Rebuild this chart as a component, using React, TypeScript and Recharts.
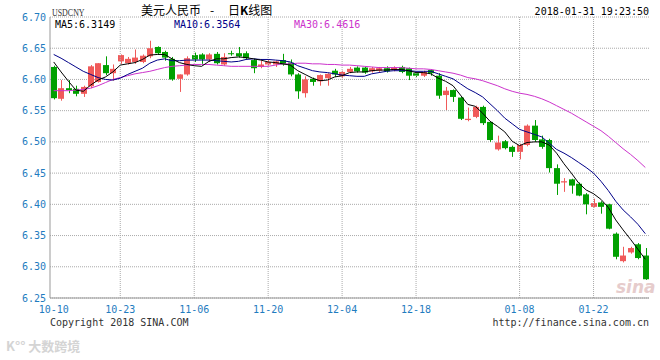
import React from 'react';
import { ComposedChart, Bar, Line, XAxis, YAxis, CartesianGrid, ReferenceLine } from 'recharts';

// trading days 2017-10-10 .. 2018-01-31
const dates = [
  '10-10', '10-11', '10-12', '10-13', '10-16', '10-17', '10-18', '10-19', '10-20', '10-23',
  '10-24', '10-25', '10-26', '10-27', '10-30', '10-31', '11-01', '11-02', '11-03', '11-06',
  '11-07', '11-08', '11-09', '11-10', '11-13', '11-14', '11-15', '11-16', '11-17', '11-20',
  '11-21', '11-22', '11-23', '11-24', '11-27', '11-28', '11-29', '11-30', '12-01', '12-04',
  '12-05', '12-06', '12-07', '12-08', '12-11', '12-12', '12-13', '12-14', '12-15', '12-18',
  '12-19', '12-20', '12-21', '12-22', '12-25', '12-26', '12-27', '12-28', '12-29', '01-02',
  '01-03', '01-04', '01-05', '01-08', '01-09', '01-10', '01-11', '01-12', '01-15', '01-16',
  '01-17', '01-18', '01-19', '01-22', '01-23', '01-24', '01-25', '01-26', '01-29', '01-30',
  '01-31',
];

const opens = [
  6.620, 6.569, 6.586, 6.585, 6.577, 6.589, 6.596, 6.623, 6.610, 6.629,
  6.626, 6.628, 6.628, 6.637, 6.652, 6.644, 6.633, 6.601, 6.608, 6.639,
  6.640, 6.632, 6.641, 6.624, 6.642, 6.642, 6.642, 6.631, 6.620, 6.624,
  6.624, 6.631, 6.627, 6.608, 6.578, 6.601, 6.597, 6.602, 6.614, 6.605,
  6.612, 6.619, 6.619, 6.613, 6.614, 6.618, 6.615, 6.620, 6.618, 6.610,
  6.606, 6.615, 6.606, 6.575, 6.583, 6.571, 6.535, 6.540, 6.556, 6.532,
  6.488, 6.501, 6.492, 6.484, 6.495, 6.526, 6.504, 6.503, 6.458, 6.435,
  6.440, 6.433, 6.416, 6.396, 6.403, 6.400, 6.353, 6.309, 6.323, 6.336,
  6.318,
];

const highs = [
  6.622, 6.599, 6.599, 6.590, 6.590, 6.623, 6.626, 6.637, 6.624, 6.640,
  6.636, 6.648, 6.640, 6.662, 6.653, 6.646, 6.636, 6.608, 6.637, 6.643,
  6.642, 6.642, 6.644, 6.642, 6.646, 6.652, 6.645, 6.633, 6.630, 6.632,
  6.630, 6.641, 6.632, 6.610, 6.605, 6.603, 6.608, 6.610, 6.617, 6.614,
  6.620, 6.621, 6.620, 6.620, 6.620, 6.621, 6.621, 6.622, 6.619, 6.611,
  6.614, 6.616, 6.610, 6.588, 6.584, 6.572, 6.555, 6.558, 6.558, 6.533,
  6.510, 6.503, 6.494, 6.497, 6.528, 6.535, 6.510, 6.505, 6.464, 6.442,
  6.441, 6.435, 6.418, 6.409, 6.405, 6.401, 6.355, 6.332, 6.332, 6.338,
  6.330,
];

const lows = [
  6.568, 6.566, 6.578, 6.573, 6.572, 6.586, 6.595, 6.607, 6.598, 6.625,
  6.624, 6.625, 6.626, 6.634, 6.640, 6.630, 6.598, 6.580, 6.606, 6.628,
  6.625, 6.628, 6.624, 6.622, 6.638, 6.635, 6.632, 6.610, 6.618, 6.622,
  6.620, 6.622, 6.605, 6.569, 6.571, 6.590, 6.590, 6.590, 6.604, 6.602,
  6.610, 6.611, 6.609, 6.611, 6.612, 6.611, 6.613, 6.610, 6.599, 6.604,
  6.604, 6.606, 6.569, 6.551, 6.564, 6.535, 6.533, 6.538, 6.527, 6.500,
  6.486, 6.488, 6.476, 6.472, 6.493, 6.500, 6.489, 6.451, 6.415, 6.420,
  6.417, 6.413, 6.384, 6.395, 6.385, 6.360, 6.312, 6.307, 6.321, 6.312,
  6.279,
];

const closes = [
  6.570, 6.586, 6.583, 6.577, 6.588, 6.621, 6.626, 6.610, 6.617, 6.639,
  6.633, 6.635, 6.638, 6.650, 6.642, 6.635, 6.600, 6.608, 6.634, 6.632,
  6.632, 6.640, 6.626, 6.636, 6.641, 6.637, 6.634, 6.618, 6.624, 6.628,
  6.629, 6.624, 6.608, 6.581, 6.600, 6.596, 6.607, 6.609, 6.608, 6.612,
  6.617, 6.613, 6.611, 6.618, 6.618, 6.613, 6.619, 6.612, 6.606, 6.606,
  6.612, 6.610, 6.574, 6.582, 6.572, 6.537, 6.537, 6.556, 6.530, 6.503,
  6.499, 6.490, 6.484, 6.495, 6.526, 6.503, 6.492, 6.458, 6.433, 6.437,
  6.430, 6.414, 6.400, 6.402, 6.396, 6.361, 6.316, 6.318, 6.330, 6.314,
  6.280,
];

const ma5 = [
  6.628, 6.612, 6.597, 6.583, 6.581, 6.591, 6.599, 6.604, 6.612, 6.623,
  6.625, 6.627, 6.632, 6.639, 6.640, 6.640, 6.633, 6.627, 6.624, 6.622,
  6.621, 6.629, 6.633, 6.633, 6.635, 6.636, 6.635, 6.633, 6.631, 6.628,
  6.627, 6.625, 6.623, 6.614, 6.608, 6.602, 6.598, 6.599, 6.604, 6.606,
  6.611, 6.612, 6.612, 6.614, 6.615, 6.615, 6.616, 6.616, 6.614, 6.611,
  6.611, 6.609, 6.602, 6.597, 6.590, 6.575, 6.560, 6.557, 6.546, 6.533,
  6.525, 6.516, 6.501, 6.494, 6.499, 6.500, 6.500, 6.495, 6.482, 6.465,
  6.450, 6.434, 6.423, 6.417, 6.408, 6.395, 6.375, 6.359, 6.344, 6.328,
  6.312,
];

const ma10 = [
  6.640, 6.634, 6.627, 6.620, 6.613, 6.608, 6.603, 6.600, 6.599, 6.602,
  6.608, 6.613, 6.618, 6.626, 6.631, 6.633, 6.630, 6.630, 6.631, 6.631,
  6.631, 6.631, 6.630, 6.629, 6.628, 6.629, 6.632, 6.633, 6.632, 6.632,
  6.631, 6.630, 6.628, 6.622, 6.618, 6.614, 6.612, 6.611, 6.609, 6.607,
  6.606, 6.605, 6.605, 6.609, 6.611, 6.613, 6.614, 6.614, 6.614, 6.613,
  6.613, 6.613, 6.609, 6.605, 6.601, 6.593, 6.585, 6.579, 6.572, 6.561,
  6.550, 6.538, 6.529, 6.520, 6.516, 6.512, 6.508, 6.498, 6.488, 6.482,
  6.475, 6.467, 6.459, 6.450, 6.437, 6.422, 6.405, 6.391, 6.380, 6.368,
  6.353,
];

const ma30 = [
  6.582, 6.582, 6.582, 6.583, 6.584, 6.586, 6.590, 6.595, 6.600, 6.603,
  6.606, 6.609, 6.611, 6.613, 6.616, 6.619, 6.621, 6.622, 6.623, 6.624,
  6.624, 6.624, 6.623, 6.622, 6.621, 6.621, 6.621, 6.621, 6.621, 6.621,
  6.623, 6.625, 6.625, 6.626, 6.626, 6.625, 6.625, 6.624, 6.624, 6.623,
  6.623, 6.622, 6.621, 6.620, 6.619, 6.619, 6.619, 6.619, 6.618, 6.617,
  6.617, 6.616, 6.614, 6.612, 6.610, 6.607, 6.603, 6.601, 6.598, 6.594,
  6.590, 6.585, 6.581, 6.578, 6.576, 6.573, 6.569, 6.564, 6.558, 6.552,
  6.546, 6.539, 6.532, 6.525, 6.518, 6.509, 6.499, 6.489, 6.480, 6.470,
  6.459,
];

const tickDates = ['10-10', '10-23', '11-06', '11-20', '12-04', '12-18', '01-08', '01-22'];
const yTicks = [6.25, 6.3, 6.35, 6.4, 6.45, 6.5, 6.55, 6.6, 6.65, 6.7];

const UP = '#f05a5a';
const DOWN = '#00a000';
const LABEL = '#1f7cc0';
const MONO = '"DejaVu Sans Mono", "Liberation Mono", monospace';
const CJK = '"Noto Sans CJK SC", sans-serif';

const chartData = dates.map((d, i) => ({
  date: d,
  open: opens[i],
  high: highs[i],
  low: lows[i],
  close: closes[i],
  range: [lows[i], highs[i]],
  ma5: ma5[i],
  ma10: ma10[i],
  ma30: ma30[i],
}));

// candle drawn from the [low, high] bar that recharts positions for us
function Candle(props: any) {
  const { x, y, width, height, payload } = props;
  if (!payload) return <g />;
  const { open, close, high, low } = payload;
  const top = Math.min(y, y + height);
  const span = Math.abs(height);
  const k = high === low ? 0 : span / (high - low);
  const py = (v: number) => top + (high - v) * k;
  const color = close > open ? UP : DOWN;
  const cx = Math.round(x + width / 2) + 0.5;
  const bodyTop = py(Math.max(open, close));
  const bodyH = Math.max(1, py(Math.min(open, close)) - bodyTop);
  return (
    <g>
      <line x1={cx} x2={cx} y1={top} y2={top + span} stroke={color} strokeWidth={1} />
      <rect x={Math.round(x)} y={bodyTop} width={Math.round(width)} height={bodyH} fill={color} />
    </g>
  );
}

function DateTick(props: any) {
  const { x, y, payload } = props;
  if (!tickDates.includes(payload.value)) return <g />;
  return (
    <text x={x} y={y} dy={9} textAnchor="middle" fill={LABEL} fontSize={10} fontFamily={MONO}>
      {payload.value}
    </text>
  );
}

const abs = (style: React.CSSProperties): React.CSSProperties => ({
  position: 'absolute',
  whiteSpace: 'nowrap',
  lineHeight: 1,
  pointerEvents: 'none',
  ...style,
});

export default function App() {
  return (
    <div style={{ position: 'absolute', left: 0, top: 0, width: 660, height: 360, background: '#fff' }}>
      <ComposedChart
        width={660}
        height={360}
        data={chartData}
        margin={{ top: 17, right: 11, bottom: 42, left: 0 }}
        barSize={6}
      >
        <CartesianGrid vertical={false} stroke="#aaa" strokeDasharray="1 1" />
        {tickDates.slice(1).map((d) => (
          <ReferenceLine key={d} x={d} stroke="#aaa" strokeDasharray="1 1" />
        ))}
        <XAxis
          dataKey="date"
          interval={0}
          height={20}
          tick={<DateTick />}
          tickLine={false}
          tickSize={0}
          tickMargin={6}
          axisLine={{ stroke: '#999' }}
        />
        <XAxis
          xAxisId="top"
          orientation="top"
          dataKey="date"
          height={0}
          tick={false}
          tickLine={false}
          axisLine={{ stroke: '#999' }}
        />
        <YAxis
          domain={[6.25, 6.7]}
          ticks={yTicks}
          width={50}
          tickFormatter={(v: number) => v.toFixed(2)}
          tick={{ fill: LABEL, fontSize: 10, fontFamily: MONO }}
          tickLine={false}
          tickSize={0}
          tickMargin={4}
          axisLine={{ stroke: '#999' }}
        />
        <YAxis
          yAxisId="right"
          orientation="right"
          domain={[6.25, 6.7]}
          width={0}
          tick={false}
          tickLine={false}
          axisLine={{ stroke: '#999' }}
        />
        <Bar dataKey="range" shape={<Candle />} isAnimationActive={false} />
        <Line type="linear" dataKey="ma30" stroke="#cc33cc" strokeWidth={1} dot={false} isAnimationActive={false} />
        <Line type="linear" dataKey="ma10" stroke="#000088" strokeWidth={1} dot={false} isAnimationActive={false} />
        <Line type="linear" dataKey="ma5" stroke="#000000" strokeWidth={1} dot={false} isAnimationActive={false} />
      </ComposedChart>

      <div style={abs({ left: 52, top: 7, fontSize: 11, fontFamily: '"Liberation Serif", serif', color: '#333', transform: 'scaleX(0.72)', transformOrigin: 'left top' })}>
        USDCNY
      </div>
      <div style={abs({ left: 141, top: 4, fontSize: 12, fontFamily: CJK, color: '#000' })}>美元人民币</div>
      <div style={abs({ left: 210, top: 4, fontSize: 12, fontFamily: CJK, color: '#000' })}>-</div>
      <div style={abs({ left: 228, top: 4, fontSize: 12, fontFamily: CJK, color: '#000' })}>
        日<b>K</b>线图
      </div>
      <div style={abs({ right: 11, top: 7, fontSize: 10, fontFamily: MONO, color: '#000' })}>
        2018-01-31 19:23:50
      </div>

      <div style={abs({ left: 55, top: 20, fontSize: 10, fontFamily: MONO, color: '#000' })}>MA5:6.3149</div>
      <div style={abs({ left: 174, top: 20, fontSize: 10, fontFamily: MONO, color: '#000088' })}>MA10:6.3564</div>
      <div style={abs({ left: 294, top: 20, fontSize: 10, fontFamily: MONO, color: '#cc33cc' })}>MA30:6.4616</div>

      <div style={abs({ left: 616, top: 279, fontSize: 17, fontWeight: 700, fontStyle: 'italic', fontFamily: '"DejaVu Sans", sans-serif', color: '#e6cccc' })}>
        sina
      </div>

      <div style={abs({ left: 50, top: 318, fontSize: 10, fontFamily: MONO, color: '#333' })}>Copyright 2018 SINA.COM</div>
      <div style={abs({ right: 11, top: 318, fontSize: 10, fontFamily: MONO, color: '#333' })}>http://finance.sina.com.cn</div>

      <div style={abs({ left: 6, top: 339, fontSize: 13, fontFamily: CJK, color: '#d4d4d4', fontWeight: 700 })}>
        K°° 大数跨境
      </div>
    </div>
  );
}
